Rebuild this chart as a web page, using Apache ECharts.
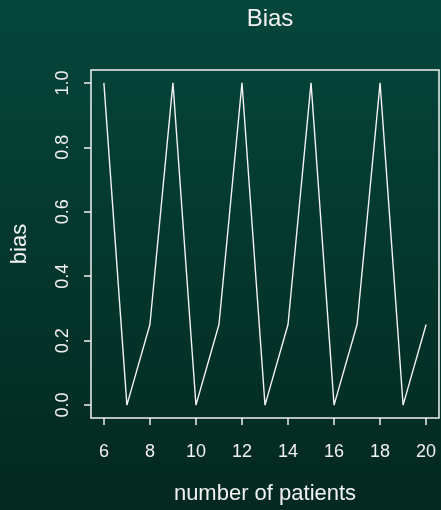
<!DOCTYPE html>
<html>
<head>
<meta charset="utf-8">
<script src="https://cdn.jsdelivr.net/npm/echarts@6/dist/echarts.min.js"></script>
<style>
  html, body { margin: 0; padding: 0; }
  #chart { width: 441px; height: 510px; }
</style>
</head>
<body>
<div id="chart"></div>
<script>
// number of patients and the resulting bias
const patients = [6, 7, 8, 9, 10, 11, 12, 13, 14, 15, 16, 17, 18, 19, 20];
const bias = [1, 0, 0.25, 1, 0, 0.25, 1, 0, 0.25, 1, 0, 0.25, 1, 0, 0.25];
const xTicks = [6, 8, 10, 12, 14, 16, 18, 20];
const yTicks = [0, 0.2, 0.4, 0.6, 0.8, 1.0];

const FONT = '"Liberation Sans", Arial, Helvetica, sans-serif';
const FG = '#f2f2f2';

const chart = echarts.init(document.getElementById('chart'));
chart.setOption({
  animation: false,
  backgroundColor: {
    type: 'linear', x: 0, y: 0, x2: 0, y2: 1,
    colorStops: [
      { offset: 0, color: '#05463b' },
      { offset: 1, color: '#03281f' }
    ]
  },
  title: {
    text: 'Bias',
    left: 265,
    textAlign: 'center',
    top: 2,
    textStyle: { color: FG, fontFamily: FONT, fontSize: 24, fontWeight: 'normal' }
  },
  grid: {
    left: 91, top: 70, right: 2, bottom: 88,
    show: true, borderColor: FG, borderWidth: 1.5, backgroundColor: 'transparent'
  },
  xAxis: {
    type: 'value',
    position: 'bottom',
    min: 5.44, max: 20.56,
    name: 'number of patients',
    nameLocation: 'middle',
    nameGap: 65,
    nameTextStyle: { color: FG, fontFamily: FONT, fontSize: 22 },
    axisLine: { show: false, onZero: false },
    splitLine: { show: false },
    axisTick: { show: true, inside: false, length: 7, customValues: xTicks,
      lineStyle: { color: FG, width: 1.5 } },
    axisLabel: { customValues: xTicks, margin: 25, color: FG, fontFamily: FONT, fontSize: 18,
      formatter: v => String(v) }
  },
  yAxis: {
    type: 'value',
    position: 'left',
    min: -0.04, max: 1.04,
    name: 'bias',
    nameLocation: 'middle',
    nameRotate: 90,
    nameGap: 60,
    nameTextStyle: { color: FG, fontFamily: FONT, fontSize: 22 },
    axisLine: { show: false, onZero: false },
    splitLine: { show: false },
    axisTick: { show: true, inside: false, length: 7, customValues: yTicks,
      lineStyle: { color: FG, width: 1.5 } },
    axisLabel: { customValues: yTicks, rotate: 90, margin: 19, color: FG, fontFamily: FONT, fontSize: 18,
      formatter: v => v.toFixed(1) }
  },
  series: [{
    type: 'line',
    data: patients.map((p, i) => [p, bias[i]]),
    showSymbol: false,
    lineStyle: { color: FG, width: 1.4 }
  }]
});
</script>
</body>
</html>
